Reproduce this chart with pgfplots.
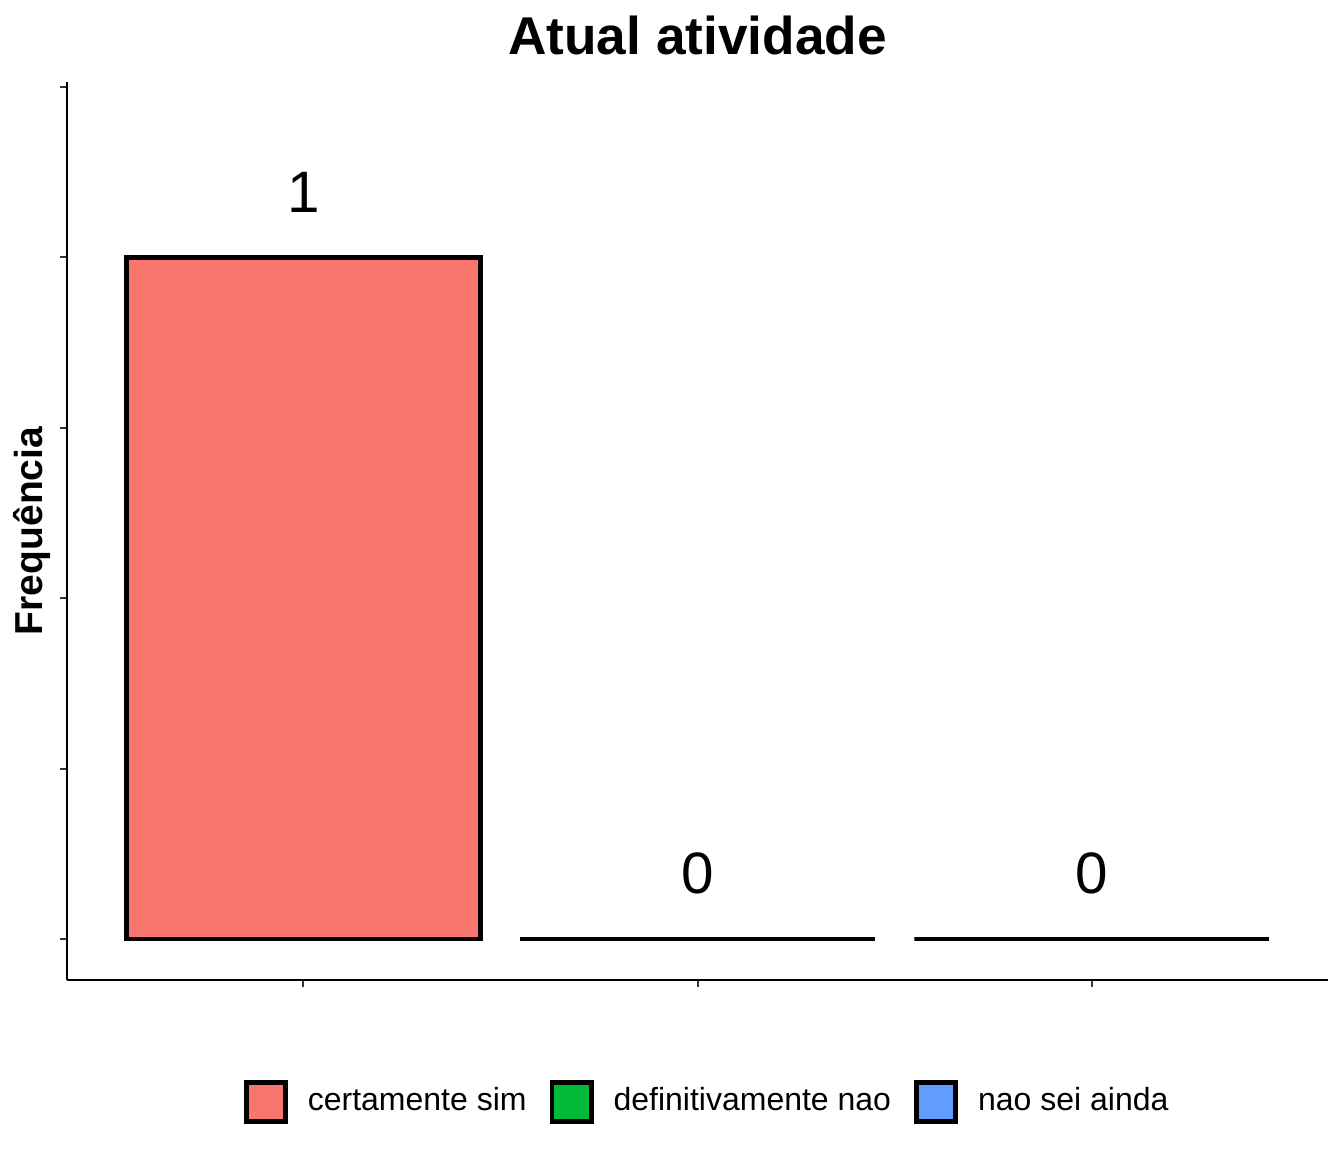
\documentclass[border=0pt]{standalone}
\usepackage{fontspec}
\setmainfont{Liberation Sans}
\usepackage{pgfplots}
\pgfplotsset{compat=1.18}
\definecolor{cSim}{HTML}{F8766D}
\definecolor{cNao}{HTML}{00BA38}
\definecolor{cAinda}{HTML}{619CFF}
\definecolor{tickgray}{HTML}{333333}

\begin{document}
\begin{tikzpicture}
% page = 1344x1152 px at 0.25pt per px; axis box corner at (0,0)
\path[use as bounding box] (-16.75pt,-43pt) rectangle (319.25pt,245pt);
\begin{axis}[
  at={(0,0)},anchor=south west,
  scale only axis,
  width=315.25pt,height=224.5pt,
  xmin=-0.6,xmax=2.6,
  ymin=-0.0602,ymax=1.2575,
  clip=false,
  axis x line*=bottom,axis y line*=left,
  axis line style={black,line width=0.5pt,-},
  xtick={0,1,2},xticklabels={},
  ytick={0,0.25,0.5,0.75,1,1.25},yticklabels={},
  tick align=outside,
  major tick length=1.75pt,
  tick style={tickgray,line width=0.5pt},
  ybar,bar width=0.9,bar shift=0pt,
  every axis plot/.append style={draw=black,line width=1.2pt},
  nodes near coords,
  every node near coord/.append style={anchor=south,inner sep=0pt,yshift=10.75pt,
    font=\fontsize{14.6}{16}\selectfont,color=black,
    /pgf/number format/assume math mode=true},
  legend columns=3,
  legend image code/.code={\draw[#1,line width=1.2pt] (0pt,-4.9pt) rectangle (9.8pt,4.9pt);},
  legend style={draw=none,fill=none,inner sep=0pt,
    at={(axis description cs:0.1396,-0.1358)},anchor=west,
    font=\fontsize{8}{9.6}\selectfont,
    /tikz/every even column/.append style={column sep=5.75pt},
    nodes={inner sep=0pt}},
  legend cell align=left,
]
\addplot[fill=cSim] coordinates {(0,1)};
\addplot[fill=cNao] coordinates {(1,0)};
\addplot[fill=cAinda] coordinates {(2,0)};
\legend{\hspace{5pt}certamente sim,\hspace{5pt}definitivamente nao,\hspace{5pt}nao sei ainda}
\node[font=\bfseries\fontsize{13.3}{16}\selectfont,anchor=base] at (axis description cs:0.5,1) [yshift=6.75pt] {Atual atividade};
\node[font=\bfseries\fontsize{9.75}{12}\selectfont,rotate=90,anchor=center] at (axis description cs:-0.0278,0.5) {Frequência};
\end{axis}
\end{tikzpicture}
\end{document}
